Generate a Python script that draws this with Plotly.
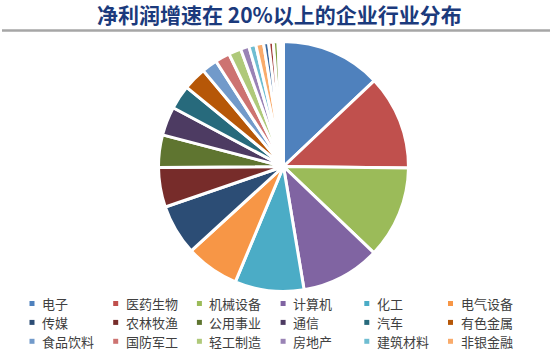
import plotly.graph_objects as go

W, H = 550, 356

# ---- data (share of companies, %) ----
industries = ["电子", "医药生物", "机械设备", "计算机", "化工", "电气设备",
              "传媒", "农林牧渔", "公用事业", "通信", "汽车", "有色金属",
              "食品饮料", "国防军工", "轻工制造", "房地产", "建筑材料", "非银金融",
              "其他1", "其他2", "其他3", "其他4", "其他5"]
shares = [12.9, 12.2, 11.9, 10.2, 8.9, 6.9,
          6.5, 5.1, 4.2, 3.7, 3.1, 3.0,
          2.0, 1.9, 1.6, 1.1, 0.9, 1.0,
          0.65, 0.6, 0.6, 0.35, 0.35]
colors = ["#4F81BD", "#C0504D", "#9BBB59", "#8064A2", "#4BACC6", "#F79646",
          "#2C4D75", "#772C2A", "#5F7530", "#4D3B62", "#276A7C", "#B65708",
          "#729ACA", "#CD7371", "#AFC97A", "#9983B5", "#6FBDD1", "#F9AB6B",
          "#3A679C", "#9F3B38", "#7E9D40", "#FFFFFF", "#FFFFFF"]
legend_count = 18
title_text = "净利润增速在 20%以上的企业行业分布"

fig = go.Figure()

cx, cy, r = 283.5, 166.5, 125
fig.add_trace(go.Pie(
    labels=industries, values=shares, sort=False, direction="clockwise",
    rotation=0, textinfo="none", hoverinfo="label+percent",
    marker=dict(colors=colors, line=dict(color="#FFFFFF", width=3)),
    domain=dict(x=[(cx - r) / W, (cx + r) / W], y=[1 - (cy + r) / H, 1 - (cy - r) / H]),
    showlegend=False,
))

annotations = [dict(
    text="<b>" + title_text + "</b>", x=279.5 / W, y=1 - 14 / H, xref="paper", yref="paper",
    xanchor="center", yanchor="middle", showarrow=False,
    font=dict(family="Noto Sans CJK SC", size=21, color="#1B3A7C"),
)]
shapes = [dict(type="line", xref="paper", yref="paper", x0=2 / W, x1=1, y0=1 - 30.5 / H, y1=1 - 30.5 / H,
               line=dict(color="#A6A6A6", width=2.5))]

col_x0, col_dx = 32.0, 83.7
row_y0, row_dy = 303.5, 18.9
for i in range(legend_count):
    row, col = divmod(i, 6)
    sx = col_x0 + col * col_dx
    sy = row_y0 + row * row_dy
    shapes.append(dict(type="rect", xref="paper", yref="paper",
                       x0=(sx - 2.5) / W, x1=(sx + 2.5) / W,
                       y0=1 - (sy + 2.5) / H, y1=1 - (sy - 2.5) / H,
                       fillcolor=colors[i], line=dict(width=0)))
    annotations.append(dict(text=industries[i], x=(sx + 9) / W, y=1 - sy / H,
                            xref="paper", yref="paper", xanchor="left", yanchor="middle",
                            showarrow=False, borderpad=0,
                            font=dict(family="Noto Sans CJK SC", size=13, color="#404040")))

fig.update_layout(
    width=W, height=H, margin=dict(l=0, r=0, t=0, b=0),
    paper_bgcolor="#FFFFFF", plot_bgcolor="#FFFFFF",
    annotations=annotations, shapes=shapes, showlegend=False,
)

fig.write_html("out.html", config={"displayModeBar": False},
               post_script="document.body.style.margin='0';document.body.style.overflow='hidden';")
